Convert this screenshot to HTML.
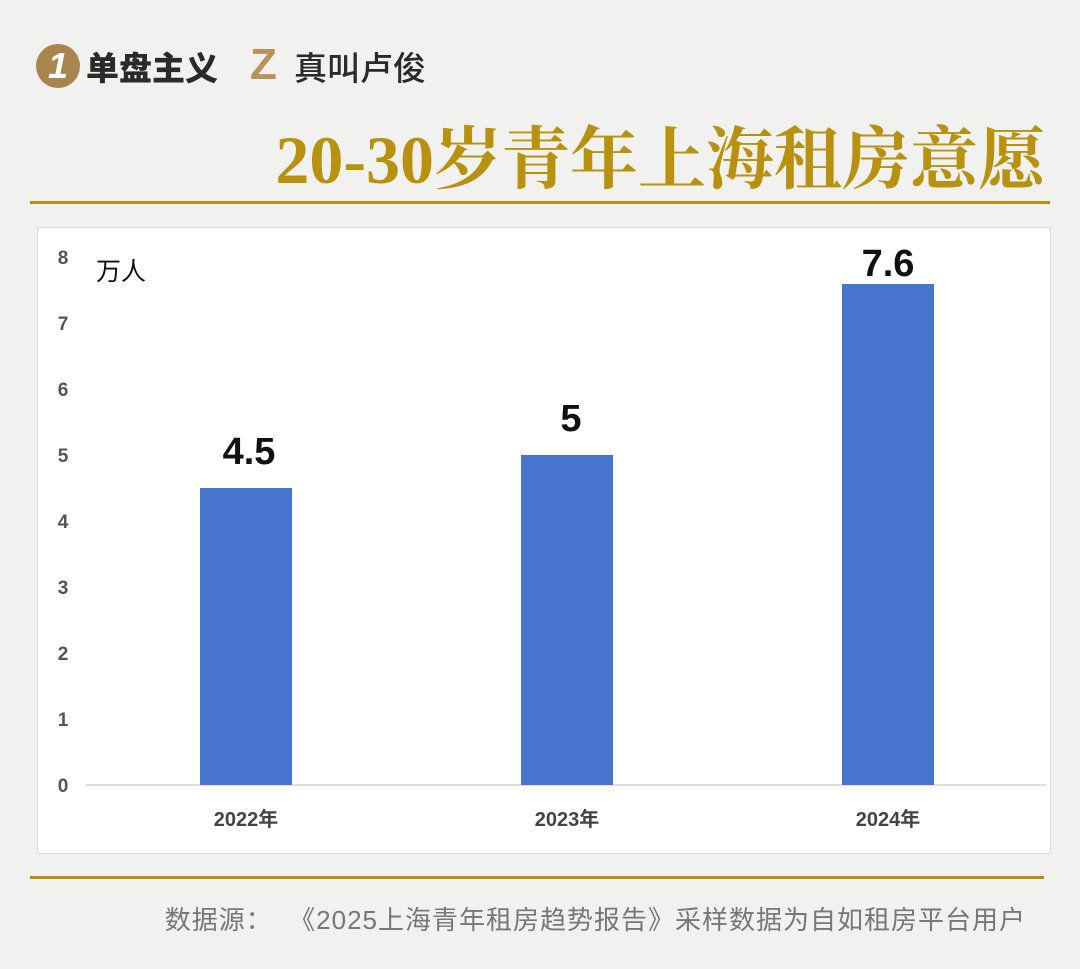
<!DOCTYPE html>
<html><head><meta charset="utf-8"><style>
body{margin:0;width:1080px;height:969px;background:#f1f1f0;position:relative;overflow:hidden;font-family:"Liberation Sans","Noto Sans CJK SC",sans-serif}
.abs{position:absolute}
</style></head><body>
<div class="abs" style="left:36px;top:44px;width:44px;height:44px;border-radius:50%;background:#a9854e;color:#fff;font:italic bold 36px 'Liberation Sans',sans-serif;text-align:center;line-height:44px">1</div>
<div class="abs" style="left:86px;top:42px;font:900 33px 'Noto Sans CJK SC',sans-serif;color:#2a2a2a;line-height:48px">单盘主义</div>
<div class="abs" style="left:250px;top:44px;width:40px;height:42px;color:#b7935a;font:bold 44px 'Liberation Sans',sans-serif;line-height:42px">Z</div>
<div class="abs" style="left:294px;top:42px;font:500 33px 'Noto Sans CJK SC',sans-serif;color:#2a2a2a;line-height:48px">真叫卢俊</div>
<div class="abs" style="right:34px;top:118px;font:bold 68px 'Liberation Serif','Noto Serif CJK SC',serif;color:#b8920f;line-height:84px;white-space:nowrap;letter-spacing:0px">20-30岁青年上海租房意愿</div>
<div class="abs" style="left:30px;top:201px;width:1020px;height:3px;background:#b8920f"></div>
<div class="abs" style="left:37px;top:227px;width:1012px;height:625px;background:#fff;border:1px solid #dcdcdc"></div>
<svg class="abs" style="left:0;top:0" width="1080" height="969">
<g font-family="Liberation Sans,sans-serif" font-weight="bold" font-size="19" fill="#555" text-anchor="middle">
<text x="63" y="792">0</text><text x="63" y="726">1</text><text x="63" y="660">2</text><text x="63" y="594">3</text><text x="63" y="528">4</text><text x="63" y="462">5</text><text x="63" y="396">6</text><text x="63" y="330">7</text><text x="63" y="264">8</text>
</g>
<text x="96" y="280" font-family="Noto Sans CJK SC,sans-serif" font-size="25" fill="#111">万人</text>
<line x1="86" y1="785" x2="1046" y2="785" stroke="#d0d0d0" stroke-width="1.5"/>
<rect x="200" y="488" width="92" height="297" fill="#4775cd"/>
<rect x="521" y="455" width="92" height="330" fill="#4775cd"/>
<rect x="842" y="284" width="92" height="501" fill="#4775cd"/>
<g font-family="Liberation Sans,sans-serif" font-weight="bold" font-size="38" fill="#111" text-anchor="middle">
<text x="249" y="464">4.5</text><text x="571" y="431">5</text><text x="888" y="276">7.6</text>
</g>
<g font-family="Liberation Sans,Noto Sans CJK SC,sans-serif" font-weight="bold" font-size="20" fill="#444" text-anchor="middle">
<text x="246" y="826">2022年</text><text x="567" y="826">2023年</text><text x="888" y="826">2024年</text>
</g>
</svg>
<div class="abs" style="left:30px;top:876px;width:1014px;height:3px;background:#b8920f"></div>
<div class="abs" style="right:54px;top:900px;font:26px 'Liberation Sans','Noto Sans CJK SC',sans-serif;color:#777;white-space:nowrap;letter-spacing:1px">数据源：&nbsp; 《2025上海青年租房趋势报告》采样数据为自如租房平台用户</div>
</body></html>
